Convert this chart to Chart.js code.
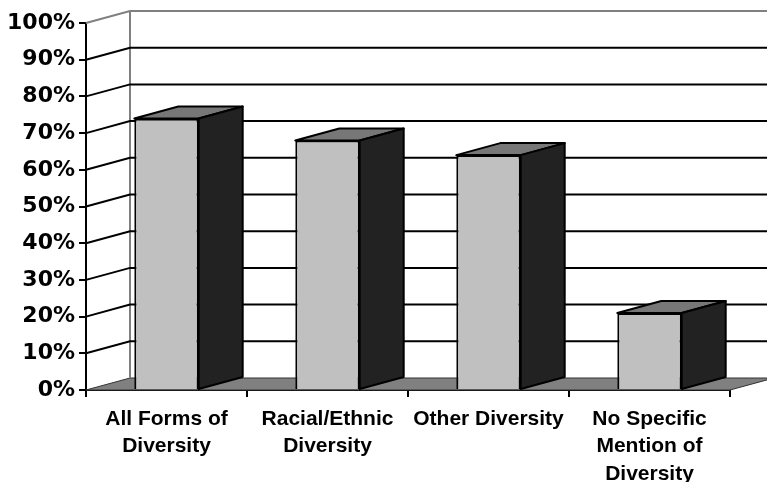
<!DOCTYPE html>
<html>
<head>
<meta charset="utf-8">
<script src="https://cdn.jsdelivr.net/npm/chart.js@4/dist/chart.umd.min.js"></script>
<style>
  html, body { margin: 0; padding: 0; background: #fff; }
  #wrap { width: 767px; height: 482px; }
</style>
</head>
<body>
<div id="wrap"><canvas id="c" width="767" height="482"></canvas></div>
<script>
const categories = [
  ["All Forms of", "Diversity"],
  ["Racial/Ethnic", "Diversity"],
  ["Other Diversity"],
  ["No Specific", "Mention of", "Diversity"]
];
const values = [74, 68, 64, 21];
const yMin = 0, yMax = 100, yStep = 10;

const DEPTH_X = 44, DEPTH_Y = -12;

const threeD = {
  id: 'threeD',
  beforeDatasetsDraw(chart) {
    const ctx = chart.ctx;
    const ys = chart.scales.y;
    const a = chart.chartArea;
    ctx.save();
    // floor
    const yb = ys.getPixelForValue(yMin);
    ctx.beginPath();
    ctx.moveTo(a.left, yb);
    ctx.lineTo(a.right, yb);
    ctx.lineTo(a.right + DEPTH_X, yb + DEPTH_Y);
    ctx.lineTo(a.left + DEPTH_X, yb + DEPTH_Y);
    ctx.closePath();
    ctx.fillStyle = '#808080';
    ctx.fill();
    ctx.lineWidth = 1;
    ctx.strokeStyle = '#333';
    ctx.stroke();
    // back wall left edge
    const yt = ys.getPixelForValue(yMax);
    ctx.beginPath();
    ctx.moveTo(a.left + DEPTH_X, yt + DEPTH_Y);
    ctx.lineTo(a.left + DEPTH_X, yb + DEPTH_Y);
    ctx.strokeStyle = '#808080';
    ctx.lineWidth = 2;
    ctx.stroke();
    // gridlines
    ys.ticks.forEach(t => {
      if (t.value === yMin) return;
      const y = ys.getPixelForValue(t.value);
      ctx.beginPath();
      ctx.moveTo(a.left, y);
      ctx.lineTo(a.left + DEPTH_X, y + DEPTH_Y);
      ctx.lineTo(a.right + DEPTH_X, y + DEPTH_Y);
      ctx.strokeStyle = t.value === yMax ? '#808080' : '#000';
      ctx.lineWidth = 2;
      ctx.stroke();
    });
    ctx.restore();
  },
  afterDatasetsDraw(chart) {
    const ctx = chart.ctx;
    const meta = chart.getDatasetMeta(0);
    ctx.save();
    ctx.lineWidth = 2;
    ctx.strokeStyle = '#000';
    ctx.lineJoin = 'round';
    meta.data.forEach(bar => {
      const p = bar.getProps(['x', 'y', 'base', 'width'], true);
      const x1 = p.x - p.width / 2, x2 = p.x + p.width / 2;
      const top = p.y, base = p.base;
      // top face
      ctx.beginPath();
      ctx.moveTo(x1, top);
      ctx.lineTo(x2, top);
      ctx.lineTo(x2 + DEPTH_X, top + DEPTH_Y);
      ctx.lineTo(x1 + DEPTH_X, top + DEPTH_Y);
      ctx.closePath();
      ctx.fillStyle = '#777777';
      ctx.fill();
      ctx.stroke();
      // side face
      ctx.beginPath();
      ctx.moveTo(x2, top);
      ctx.lineTo(x2 + DEPTH_X, top + DEPTH_Y);
      ctx.lineTo(x2 + DEPTH_X, base + DEPTH_Y);
      ctx.lineTo(x2, base);
      ctx.closePath();
      ctx.fillStyle = '#222222';
      ctx.fill();
      ctx.stroke();
    });
    ctx.restore();
  }
};

new Chart(document.getElementById('c'), {
  type: 'bar',
  data: {
    labels: categories,
    datasets: [{
      data: values,
      backgroundColor: '#c0c0c0',
      borderColor: '#000',
      borderWidth: 2,
      barPercentage: 0.8,
      categoryPercentage: 0.5
    }]
  },
  options: {
    responsive: false,
    animation: false,
    events: [],
    layout: { padding: { top: 23, right: 37, left: 0, bottom: 0 } },
    plugins: { legend: { display: false }, tooltip: { enabled: false } },
    scales: {
      x: {
        z: 1,
        offset: true,
        grid: { offset: true, drawOnChartArea: false, drawTicks: true, tickLength: 7, color: '#000', lineWidth: 2 },
        border: { display: true, color: '#000', width: 2 },
        ticks: {
          color: '#000',
          padding: 8,
          maxRotation: 0,
          autoSkip: false,
          font: { family: '"Liberation Sans", Arial, sans-serif', size: 21, weight: 'bold', lineHeight: 1.32 }
        },
        afterFit(s) { s.height = 92; }
      },
      y: {
        z: 1,
        min: yMin, max: yMax,
        grid: { drawOnChartArea: false, drawTicks: true, tickLength: 7, color: '#000', lineWidth: 2 },
        border: { display: true, color: '#000', width: 2 },
        ticks: {
          stepSize: yStep,
          color: '#000',
          padding: 4,
          callback: v => v + '%',
          font: { family: '"DejaVu Sans", sans-serif', size: 22, weight: 'bold' }
        },
        afterFit(s) { s.width = 86; }
      }
    }
  },
  plugins: [threeD]
});
</script>
</body>
</html>
